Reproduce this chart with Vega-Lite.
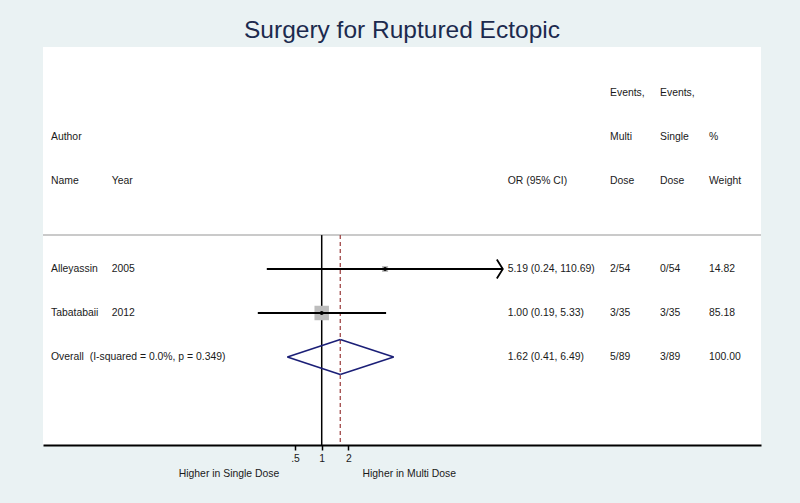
{
  "$schema": "https://vega.github.io/schema/vega-lite/v6.json",
  "autosize": "none",
  "width": 718,
  "height": 398,
  "padding": {"left": 43, "top": 47, "right": 39, "bottom": 58},
  "background": "#EAF2F3",
  "view": {"fill": "white", "stroke": null},
  "config": {"font": "Liberation Sans", "text": {"font": "Liberation Sans"}},
  "title": {"text": "Surgery for Ruptured Ectopic", "fontSize": 24.5, "fontWeight": "normal", "color": "#1c2a4e", "anchor": "middle", "baseline": "bottom", "offset": 4, "dy": 24, "font": "Liberation Sans"},
  "datasets": {
    "studies": [
      {"study": "Alleyassin", "row": 4, "or": 5.19, "lo": 0.24, "hi": 110.69, "weight": 14.82},
      {"study": "Tabatabaii", "row": 5, "or": 1.0, "lo": 0.19, "hi": 5.33, "weight": 85.18}
    ],
    "overall": [{"row": 6, "or": 1.62, "lo": 0.41, "hi": 6.49}],
    "table": [
      {"row": 0, "col": 3, "label": "Events,"},
      {"row": 0, "col": 4, "label": "Events,"},
      {"row": 1, "col": 0, "label": "Author"},
      {"row": 1, "col": 3, "label": "Multi"},
      {"row": 1, "col": 4, "label": "Single"},
      {"row": 1, "col": 5, "label": "%"},
      {"row": 2, "col": 0, "label": "Name"},
      {"row": 2, "col": 1, "label": "Year"},
      {"row": 2, "col": 2, "label": "OR (95% CI)"},
      {"row": 2, "col": 3, "label": "Dose"},
      {"row": 2, "col": 4, "label": "Dose"},
      {"row": 2, "col": 5, "label": "Weight"},
      {"row": 4, "col": 0, "label": "Alleyassin"},
      {"row": 4, "col": 1, "label": "2005"},
      {"row": 4, "col": 2, "label": "5.19 (0.24, 110.69)"},
      {"row": 4, "col": 3, "label": "2/54"},
      {"row": 4, "col": 4, "label": "0/54"},
      {"row": 4, "col": 5, "label": "14.82"},
      {"row": 5, "col": 0, "label": "Tabatabaii"},
      {"row": 5, "col": 1, "label": "2012"},
      {"row": 5, "col": 2, "label": "1.00 (0.19, 5.33)"},
      {"row": 5, "col": 3, "label": "3/35"},
      {"row": 5, "col": 4, "label": "3/35"},
      {"row": 5, "col": 5, "label": "85.18"},
      {"row": 6, "col": 0, "label": "Overall\u00a0 (I-squared = 0.0%, p = 0.349)"},
      {"row": 6, "col": 2, "label": "1.62 (0.41, 6.49)"},
      {"row": 6, "col": 3, "label": "5/89"},
      {"row": 6, "col": 4, "label": "3/89"},
      {"row": 6, "col": 5, "label": "100.00"}
    ],
    "favours": [
      {"side": "Higher in Single Dose", "row": 8.66},
      {"side": "Higher in Multi Dose", "row": 8.66}
    ]
  },
  "resolve": {"scale": {"x": "independent"}},
  "layer": [
    {
      "layer": [
        {
          "data": {"values": [{}]},
          "mark": {"type": "rule", "color": "#b8b8b8", "strokeWidth": 1.5},
          "encoding": {
            "y": {"datum": 3.23, "type": "quantitative", "axis": null, "scale": {"domain": [-1.045, 8], "reverse": true, "nice": false, "zero": false}}
          }
        },
        {
          "data": {"values": [{}]},
          "mark": {"type": "rule", "color": "black", "strokeWidth": 1.5},
          "encoding": {
            "x": {"datum": 1, "type": "quantitative", "title": null},
            "y": {"datum": 3.23, "type": "quantitative", "axis": null},
            "y2": {"datum": 8}
          }
        },
        {
          "data": {"name": "overall"},
          "mark": {"type": "rule", "color": "#a04848", "strokeWidth": 1.3, "strokeDash": [4, 3]},
          "encoding": {
            "x": {"field": "or", "type": "quantitative", "title": null},
            "y": {"datum": 3.23, "type": "quantitative", "axis": null},
            "y2": {"datum": 8}
          }
        },
        {
          "data": {"name": "studies"},
          "mark": {"type": "square", "filled": true, "color": "#bdbdbd", "opacity": 1},
          "encoding": {
            "x": {"field": "or", "type": "quantitative", "title": null},
            "y": {"field": "row", "type": "quantitative", "axis": null},
            "size": {"field": "weight", "type": "quantitative", "legend": null, "scale": {"domain": [0, 85.18], "range": [0, 210]}}
          }
        },
        {
          "data": {"name": "studies"},
          "mark": {"type": "rule", "color": "black", "strokeWidth": 2},
          "encoding": {
            "x": {
              "field": "lo", "type": "quantitative", "title": null,
              "scale": {"type": "log", "domain": [0.000715, 90800], "nice": false},
              "axis": {
                "values": [0.5, 1, 2],
                "labelExpr": "datum.value == 0.5 ? '.5' : format(datum.value, 'd')",
                "domainColor": "black", "domainWidth": 2,
                "tickColor": "black", "tickWidth": 1.5, "tickSize": 5,
                "labelFontSize": 10.4, "labelColor": "#1a1a1a", "labelPadding": 3,
                "labelFont": "Liberation Sans", "labelOverlap": false, "labelFlush": false,
                "grid": false, "title": null
              }
            },
            "x2": {"field": "hi"},
            "y": {"field": "row", "type": "quantitative", "axis": null}
          }
        },
        {
          "data": {"name": "studies"},
          "mark": {"type": "point", "shape": "circle", "filled": true, "color": "black", "size": 15, "opacity": 1},
          "encoding": {
            "x": {"field": "or", "type": "quantitative", "title": null},
            "y": {"field": "row", "type": "quantitative", "axis": null}
          }
        },
        {
          "data": {"name": "studies"},
          "transform": [{"filter": "datum.hi > 100"}],
          "mark": {"type": "point", "shape": "M -0.63 -1 L 0 0 L -0.63 1", "filled": false, "stroke": "black", "strokeWidth": 1.8, "size": 361, "opacity": 1},
          "encoding": {
            "x": {"field": "hi", "type": "quantitative", "title": null},
            "y": {"field": "row", "type": "quantitative", "axis": null}
          }
        },
        {
          "data": {"name": "overall"},
          "mark": {"type": "rule", "color": "#1b1f77", "strokeWidth": 1.6, "y2Offset": -17.5},
          "encoding": {
            "x": {"field": "lo", "type": "quantitative", "title": null},
            "x2": {"field": "or"},
            "y": {"field": "row", "type": "quantitative", "axis": null},
            "y2": {"field": "row"}
          }
        },
        {
          "data": {"name": "overall"},
          "mark": {"type": "rule", "color": "#1b1f77", "strokeWidth": 1.6, "yOffset": -17.5},
          "encoding": {
            "x": {"field": "or", "type": "quantitative", "title": null},
            "x2": {"field": "hi"},
            "y": {"field": "row", "type": "quantitative", "axis": null},
            "y2": {"field": "row"}
          }
        },
        {
          "data": {"name": "overall"},
          "mark": {"type": "rule", "color": "#1b1f77", "strokeWidth": 1.6, "y2Offset": 17.5},
          "encoding": {
            "x": {"field": "hi", "type": "quantitative", "title": null},
            "x2": {"field": "or"},
            "y": {"field": "row", "type": "quantitative", "axis": null},
            "y2": {"field": "row"}
          }
        },
        {
          "data": {"name": "overall"},
          "mark": {"type": "rule", "color": "#1b1f77", "strokeWidth": 1.6, "yOffset": 17.5},
          "encoding": {
            "x": {"field": "or", "type": "quantitative", "title": null},
            "x2": {"field": "lo"},
            "y": {"field": "row", "type": "quantitative", "axis": null},
            "y2": {"field": "row"}
          }
        }
      ]
    },
    {
      "data": {"name": "table"},
      "mark": {"type": "text", "align": "left", "baseline": "middle", "fontSize": 10.4, "color": "#1a1a1a", "font": "Liberation Sans"},
      "encoding": {
        "x": {"field": "col", "type": "quantitative", "axis": null, "scale": {"domain": [0, 1, 2, 3, 4, 5], "range": [8, 68.7, 464.7, 567, 617, 666], "nice": false, "zero": false}},
        "y": {"field": "row", "type": "quantitative", "axis": null},
        "text": {"field": "label"}
      }
    },
    {
      "data": {"name": "favours"},
      "mark": {"type": "text", "align": "center", "baseline": "middle", "fontSize": 10.4, "color": "#1a1a1a", "font": "Liberation Sans"},
      "encoding": {
        "x": {"field": "side", "type": "nominal", "axis": null, "sort": null, "scale": {"type": "point", "domain": ["Higher in Single Dose", "Higher in Multi Dose"], "range": [186, 366.3], "padding": 0}},
        "y": {"field": "row", "type": "quantitative", "axis": null},
        "text": {"field": "side"}
      }
    }
  ]
}
